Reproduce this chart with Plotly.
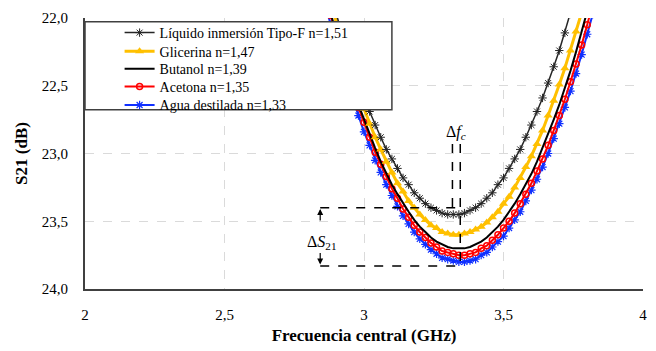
import plotly.graph_objects as go

# Frequency grid (GHz)
freq = [2.86, 2.88, 2.90, 2.92, 2.94, 2.96, 2.98, 3.00, 3.02, 3.04,
        3.06, 3.08, 3.10, 3.12, 3.14, 3.16, 3.18, 3.20, 3.22, 3.24,
        3.26, 3.28, 3.30, 3.32, 3.34, 3.36, 3.38, 3.40, 3.42, 3.44,
        3.46, 3.48, 3.50, 3.52, 3.54, 3.56, 3.58, 3.60, 3.62, 3.64,
        3.66, 3.68, 3.70, 3.72, 3.74, 3.76, 3.78, 3.80, 3.82, 3.84]

# |S21| (dB) per liquid
s21_tipo_f = [21.67, 21.82, 21.97, 22.11, 22.24, 22.36, 22.48, 22.59, 22.69, 22.79,
              22.88, 22.97, 23.04, 23.11, 23.18, 23.23, 23.29, 23.33, 23.37, 23.40,
              23.42, 23.44, 23.45, 23.45, 23.45, 23.44, 23.42, 23.40, 23.37, 23.33,
              23.29, 23.23, 23.18, 23.11, 23.04, 22.97, 22.88, 22.79, 22.69, 22.59,
              22.48, 22.36, 22.24, 22.11, 21.97, 21.82, 21.67, 21.51, 21.35, 21.18]
s21_glicerina = [21.73, 21.88, 22.03, 22.17, 22.30, 22.43, 22.55, 22.67, 22.78, 22.88,
                 22.97, 23.06, 23.14, 23.22, 23.28, 23.35, 23.40, 23.45, 23.49, 23.53,
                 23.55, 23.58, 23.59, 23.60, 23.60, 23.59, 23.58, 23.56, 23.54, 23.51,
                 23.47, 23.43, 23.37, 23.32, 23.25, 23.18, 23.10, 23.02, 22.93, 22.83,
                 22.72, 22.61, 22.49, 22.37, 22.24, 22.10, 21.96, 21.81, 21.65, 21.48]
s21_butanol = [21.81, 21.97, 22.11, 22.25, 22.39, 22.52, 22.64, 22.75, 22.86, 22.96,
               23.06, 23.15, 23.23, 23.30, 23.37, 23.43, 23.49, 23.54, 23.58, 23.62,
               23.65, 23.67, 23.69, 23.70, 23.70, 23.70, 23.69, 23.67, 23.65, 23.62,
               23.58, 23.54, 23.49, 23.43, 23.37, 23.30, 23.23, 23.15, 23.06, 22.96,
               22.86, 22.75, 22.64, 22.52, 22.39, 22.25, 22.11, 21.97, 21.81, 21.65]
s21_acetona = [21.82, 21.98, 22.13, 22.27, 22.41, 22.53, 22.66, 22.77, 22.88, 22.99,
               23.08, 23.17, 23.26, 23.33, 23.41, 23.47, 23.53, 23.58, 23.62, 23.66,
               23.69, 23.72, 23.73, 23.74, 23.75, 23.75, 23.74, 23.73, 23.70, 23.68,
               23.64, 23.60, 23.55, 23.50, 23.44, 23.37, 23.30, 23.22, 23.13, 23.04,
               22.94, 22.83, 22.72, 22.60, 22.47, 22.34, 22.20, 22.05, 21.90, 21.74]
s21_agua = [21.89, 22.05, 22.20, 22.34, 22.47, 22.60, 22.72, 22.84, 22.94, 23.05,
            23.14, 23.23, 23.31, 23.39, 23.46, 23.52, 23.58, 23.63, 23.67, 23.71,
            23.74, 23.77, 23.78, 23.79, 23.80, 23.80, 23.79, 23.78, 23.75, 23.73,
            23.69, 23.65, 23.61, 23.55, 23.49, 23.43, 23.35, 23.27, 23.19, 23.10,
            23.00, 22.89, 22.78, 22.66, 22.54, 22.41, 22.27, 22.12, 21.97, 21.82]

names = ["Líquido inmersión Tipo-F n=1,51", "Glicerina n=1,47", "Butanol n=1,39",
         "Acetona n=1,35", "Agua destilada n=1,33"]

x_ticks = [2, 2.5, 3, 3.5, 4]
x_ticktext = ["2", "2,5", "3", "3,5", "4"]
y_ticks = [22.0, 22.5, 23.0, 23.5, 24.0]
y_ticktext = ["22,0", "22,5", "23,0", "23,5", "24,0"]

SERIF = "Liberation Serif"

fig = go.Figure()

fig.add_trace(go.Scatter(
    x=freq, y=s21_agua, name=names[4], legend="legend5", mode="lines+markers",
    line=dict(color="#1030FF", width=2),
    marker=dict(symbol="asterisk-open", size=7, line=dict(color="#5AA0DC", width=1.2))))
fig.add_trace(go.Scatter(
    x=freq, y=s21_acetona, name=names[3], legend="legend4", mode="lines+markers",
    line=dict(color="#FF0000", width=2),
    marker=dict(symbol="circle-open", size=6, color="#FF0000", line=dict(color="#FF0000", width=1.5))))
fig.add_trace(go.Scatter(
    x=freq, y=s21_butanol, name=names[2], legend="legend3", mode="lines",
    line=dict(color="#000000", width=2)))
fig.add_trace(go.Scatter(
    x=freq, y=s21_glicerina, name=names[1], legend="legend2", mode="lines+markers",
    line=dict(color="#FFC000", width=3),
    marker=dict(symbol="triangle-up", size=8, color="#FFC000")))
fig.add_trace(go.Scatter(
    x=freq, y=s21_tipo_f, name=names[0], legend="legend", mode="lines+markers",
    line=dict(color="#262626", width=1.5),
    marker=dict(symbol="asterisk-open", size=7, line=dict(color="#333333", width=1))))

dash_line = dict(color="black", width=1.5, dash="dash")
shapes = [
    # legend box
    dict(type="rect", xref="paper", yref="paper", x0=0, x1=0.55, y0=0.661, y1=0.986,
         fillcolor="white", line=dict(color="#404040", width=1.5), layer="above"),
    # delta fc verticals
    dict(type="line", xref="x", yref="y", x0=3.317, x1=3.317, y0=22.93, y1=23.42, line=dash_line),
    dict(type="line", xref="x", yref="y", x0=3.345, x1=3.345, y0=22.93, y1=23.83, line=dash_line),
    # delta S21 horizontals
    dict(type="line", xref="x", yref="y", x0=2.843, x1=3.345, y0=23.40, y1=23.40, line=dash_line),
    dict(type="line", xref="x", yref="y", x0=2.843, x1=3.345, y0=23.83, y1=23.83, line=dash_line),
]

annotations = [
    dict(x=3.331, y=22.845, xref="x", yref="y", text="Δ<i>f<sub>c</sub></i>", showarrow=False,
         font=dict(family=SERIF, size=16, color="black")),
    dict(x=2.847, y=23.66, xref="x", yref="y", text="Δ<i>S</i><sub>21</sub>", showarrow=False,
         font=dict(family=SERIF, size=16, color="black")),
    dict(x=2.843, y=23.41, xref="x", yref="y", text="", showarrow=True, ax=0, ay=13,
         arrowhead=2, arrowsize=1, arrowwidth=1.2, arrowcolor="black"),
    dict(x=2.843, y=23.82, xref="x", yref="y", text="", showarrow=True, ax=0, ay=-13,
         arrowhead=2, arrowsize=1, arrowwidth=1.2, arrowcolor="black"),
]

legend_style = dict(x=0.062, xanchor="left", yanchor="top",
                    bgcolor="rgba(0,0,0,0)", borderwidth=0,
                    font=dict(family=SERIF, size=14, color="black"))
legend_rows = [1.0036, 0.935, 0.870, 0.805, 0.7365]

fig.update_layout(
    width=656, height=351,
    margin=dict(l=85, r=9, t=18, b=56),
    paper_bgcolor="white", plot_bgcolor="white",
    font=dict(family=SERIF, color="black"),
    separators=",.",
    shapes=shapes, annotations=annotations,
    legend=dict(y=legend_rows[0], **legend_style),
    legend2=dict(y=legend_rows[1], **legend_style),
    legend3=dict(y=legend_rows[2], **legend_style),
    legend4=dict(y=legend_rows[3], **legend_style),
    legend5=dict(y=legend_rows[4], **legend_style),
    showlegend=True,
)

fig.update_xaxes(
    range=[2, 4], tickvals=x_ticks, ticktext=x_ticktext,
    showline=True, linecolor="#404040", linewidth=2,
    showgrid=True, gridcolor="#DADADA", gridwidth=1, griddash="dash",
    zeroline=False, ticks="", ticklabelstandoff=11,
    tickfont=dict(family=SERIF, size=15, color="black"),
    title=dict(text="<b>Frecuencia central (GHz)</b>", standoff=7,
               font=dict(family=SERIF, size=17, color="black")),
)
fig.update_yaxes(
    range=[24, 22], tickvals=y_ticks, ticktext=y_ticktext,
    showline=True, linecolor="#404040", linewidth=2,
    showgrid=True, gridcolor="#DADADA", gridwidth=1, griddash="dash",
    zeroline=False, ticks="", ticklabelstandoff=12,
    tickfont=dict(family=SERIF, size=15, color="black"),
    title=dict(text="<b>S21 (dB)</b>", standoff=10,
               font=dict(family=SERIF, size=17, color="black")),
)

fig.write_html("out.html")
